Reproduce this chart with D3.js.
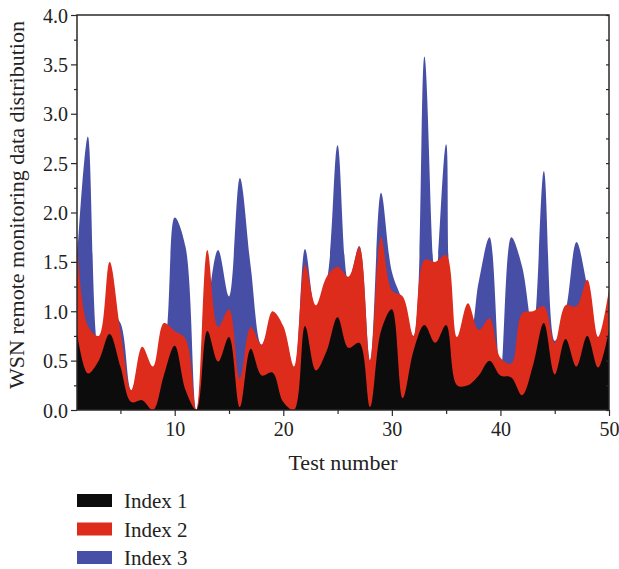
<!DOCTYPE html>
<html>
<head>
<meta charset="utf-8">
<script src="https://cdn.jsdelivr.net/npm/d3@7"></script>
<style>
  body { margin: 0; background: #fff; }
  svg text { font-family: "Liberation Serif", "DejaVu Serif", serif; fill: #222; }
</style>
</head>
<body>
<div id="chart"></div>
<script>
// test numbers 1..50
var tests = d3.range(1, 51);

var index1 = [0.78, 0.37, 0.5, 0.77, 0.44, 0.08, 0.1, 0.0, 0.35, 0.65,
              0.2, 0.0, 0.8, 0.49, 0.74, 0.03, 0.62, 0.35, 0.38, 0.08,
              0.0, 0.85, 0.4, 0.6, 0.94, 0.63, 0.68, 0.03, 0.8, 1.02,
              0.12, 0.6, 0.86, 0.68, 0.86, 0.25, 0.25, 0.35, 0.5, 0.35,
              0.33, 0.15, 0.45, 0.88, 0.36, 0.72, 0.44, 0.75, 0.43, 0.81];

var index2 = [1.74, 0.85, 0.75, 1.5, 0.8, 0.2, 0.64, 0.44, 0.88, 0.8,
              0.72, 0.0, 1.62, 0.84, 1.02, 0.32, 0.84, 0.66, 1.0, 0.85,
              0.44, 1.47, 1.06, 1.35, 1.45, 1.35, 1.65, 0.5, 1.75, 1.21,
              1.15, 0.75, 1.52, 1.5, 1.57, 0.74, 1.08, 0.81, 0.93, 0.53,
              0.47, 0.98, 1.0, 1.05, 0.68, 1.06, 1.05, 1.32, 0.74, 1.22];

var index3 = [1.5, 2.77, 0.6, 1.0, 0.88, 0.2, 0.5, 0.4, 0.6, 1.95,
              1.65, 0.0, 1.0, 1.62, 1.15, 2.35, 1.45, 0.66, 0.9, 0.8,
              0.4, 1.63, 1.0, 1.3, 2.68, 1.3, 1.66, 0.5, 2.2, 1.4,
              1.1, 0.75, 3.58, 1.3, 2.69, 0.7, 0.7, 1.3, 1.75, 0.35,
              1.75, 1.45, 0.8, 2.42, 0.7, 1.0, 1.7, 1.25, 0.7, 1.15];

var seriesNames = ["Index 1", "Index 2", "Index 3"];
var seriesColors = ["#0c0c0c", "#dd2b1c", "#474ea6"];

var yMajor = d3.range(0, 4.01, 0.5);
var yMinor = d3.range(0.25, 4, 0.5);
var xMajor = [10, 20, 30, 40, 50];
var xMinor = [5, 15, 25, 35, 45];

var W = 619, H = 569;
var margin = {top: 15, right: 10, bottom: 159, left: 77};

var svg = d3.select("#chart").append("svg")
  .attr("width", W)
  .attr("height", H);

var g = svg.append("g")
  .attr("transform", "translate(" + margin.left + "," + margin.top + ")");

var x = d3.scaleLinear().domain([1, 50]).range([0, 532]);
var y = d3.scaleLinear().domain([0, 4]).range([395, 0]);

svg.append("defs").append("clipPath").attr("id", "plotclip")
  .append("rect").attr("x", 0).attr("y", 0).attr("width", 532).attr("height", 395);

var plot = g.append("g").attr("clip-path", "url(#plotclip)");

var area = d3.area()
  .x(function(d, i) { return x(tests[i]); })
  .y0(y(0))
  .y1(function(d) { return y(d); })
  .curve(d3.curveCatmullRom.alpha(0.5));

// back to front: index 3, index 2, index 1
[index3, index2, index1].forEach(function(s, k) {
  plot.append("path")
    .datum(s)
    .attr("d", area)
    .attr("fill", seriesColors[2 - k]);
});

// axes
var axisColor = "#2a2a2a";

var leftAxis = g.append("g")
  .call(d3.axisLeft(y).tickValues(yMajor).tickSize(6).tickFormat(d3.format(".1f")));
g.append("g")
  .call(d3.axisLeft(y).tickValues(yMinor).tickSize(3).tickFormat(""));

g.append("g")
  .attr("transform", "translate(532,0)")
  .call(d3.axisLeft(y).tickValues(yMajor.concat(yMinor)).tickSize(3).tickFormat(""));

var bottomAxis = g.append("g")
  .attr("transform", "translate(0,395)")
  .call(d3.axisBottom(x).tickValues(xMajor).tickSize(6).tickFormat(d3.format("d")));
g.append("g")
  .attr("transform", "translate(0,395)")
  .call(d3.axisBottom(x).tickValues(xMinor).tickSize(4).tickFormat(""));

g.selectAll(".domain").remove();
g.selectAll(".tick line").attr("stroke", axisColor).attr("stroke-width", 1.2);
g.selectAll(".tick text").style("font-size", "20px").attr("fill", "#222")
  .style("font-family", "Liberation Serif, DejaVu Serif, serif");
leftAxis.selectAll(".tick text").attr("x", -9).attr("dy", "0.35em");
bottomAxis.selectAll(".tick text").attr("y", 10).attr("dy", "0.78em");

// frame
g.append("rect")
  .attr("x", 0).attr("y", 0)
  .attr("width", 532).attr("height", 395)
  .attr("fill", "none")
  .attr("stroke", axisColor)
  .attr("stroke-width", 1.5);

// axis titles
svg.append("text")
  .attr("x", margin.left + 266)
  .attr("y", 470)
  .attr("text-anchor", "middle")
  .style("font-size", "22px")
  .text("Test number");

svg.append("text")
  .attr("transform", "translate(24," + (margin.top + 190) + ") rotate(-90)")
  .attr("text-anchor", "middle")
  .style("font-size", "22px")
  .text("WSN remote monitoring data distribution");

// legend
var legend = svg.append("g").attr("transform", "translate(77,494)");
seriesNames.forEach(function(name, i) {
  var row = legend.append("g").attr("transform", "translate(0," + (i * 28.5) + ")");
  row.append("rect")
    .attr("width", 35).attr("height", 13)
    .attr("fill", seriesColors[i]);
  row.append("text")
    .attr("x", 47).attr("y", 14)
    .style("font-size", "21px")
    .text(name);
});
</script>
</body>
</html>
